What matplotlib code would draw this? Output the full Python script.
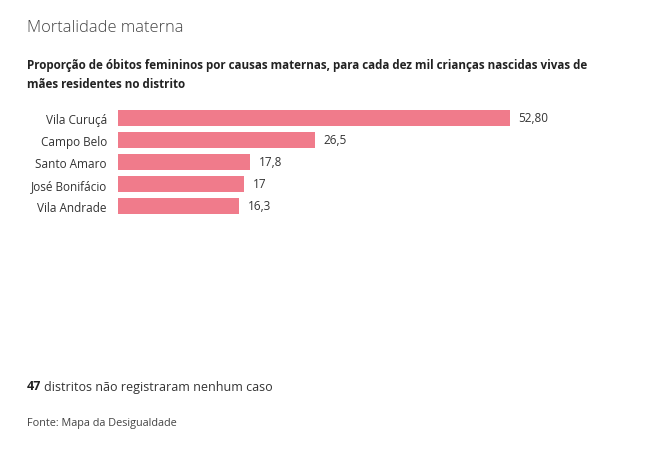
import matplotlib.pyplot as plt

# Dados
distritos = ['Vila Curuçá', 'Campo Belo', 'Santo Amaro', 'José Bonifácio', 'Vila Andrade']
valores = [52.80, 26.5, 17.8, 17, 16.3]
rotulos = ['52,80', '26,5', '17,8', '17', '16,3']

W, H = 646, 452
fig = plt.figure(figsize=(W / 100, H / 100), dpi=100)
fig.patch.set_facecolor('white')

fonte = ['Open Sans', 'DejaVu Sans']
cor_texto = '#333333'

# eixo: 118px -> 563px, 108px -> 218px
ax = fig.add_axes([118 / W, 1 - 218 / H, 445 / W, 110 / H])
y = list(range(len(distritos)))
ax.barh(y, valores, height=0.77, color='#F07B8B')
ax.set_xlim(0, 60)
ax.set_ylim(len(distritos) - 0.5, -0.5)
ax.set_yticks(y)
ax.set_yticklabels(distritos, family=fonte, fontsize=8.5, color=cor_texto)
ax.tick_params(axis='y', length=0, pad=8)
ax.set_xticks([])
for s in ax.spines.values():
    s.set_visible(False)

for yi, v, r in zip(y, valores, rotulos):
    ax.text(v + 1.2, yi, r, va='center', ha='left', family=fonte,
            fontsize=8.5, color=cor_texto)

# Textos
fig.text(27 / W, 1 - 28 / H, 'Mortalidade materna', family=fonte, fontsize=11.8,
         fontweight='light', color='#444444', va='center')
fig.text(27 / W, 1 - 66 / H,
         'Proporção de óbitos femininos por causas maternas, para cada dez mil crianças nascidas vivas de',
         family=fonte, fontsize=8.35, fontweight='bold', color='#222222', va='center')
fig.text(27 / W, 1 - 85 / H, 'mães residentes no distrito',
         family=fonte, fontsize=8.35, fontweight='bold', color='#222222', va='center')

t = fig.text(27 / W, 1 - 387 / H, '47', family=fonte, fontsize=9, fontweight='bold',
             color='#222222', va='center')
fig.canvas.draw()
bb = t.get_window_extent()
fig.text(bb.x1 / W + 3 / W, 1 - 387 / H, 'distritos não registraram nenhum caso',
         family=fonte, fontsize=9, color=cor_texto, va='center')

fig.text(27 / W, 1 - 424 / H, 'Fonte: Mapa da Desigualdade', family=fonte,
         fontsize=7.8, color='#444444', va='center')

fig.savefig('out.png', dpi=100, facecolor='white')
